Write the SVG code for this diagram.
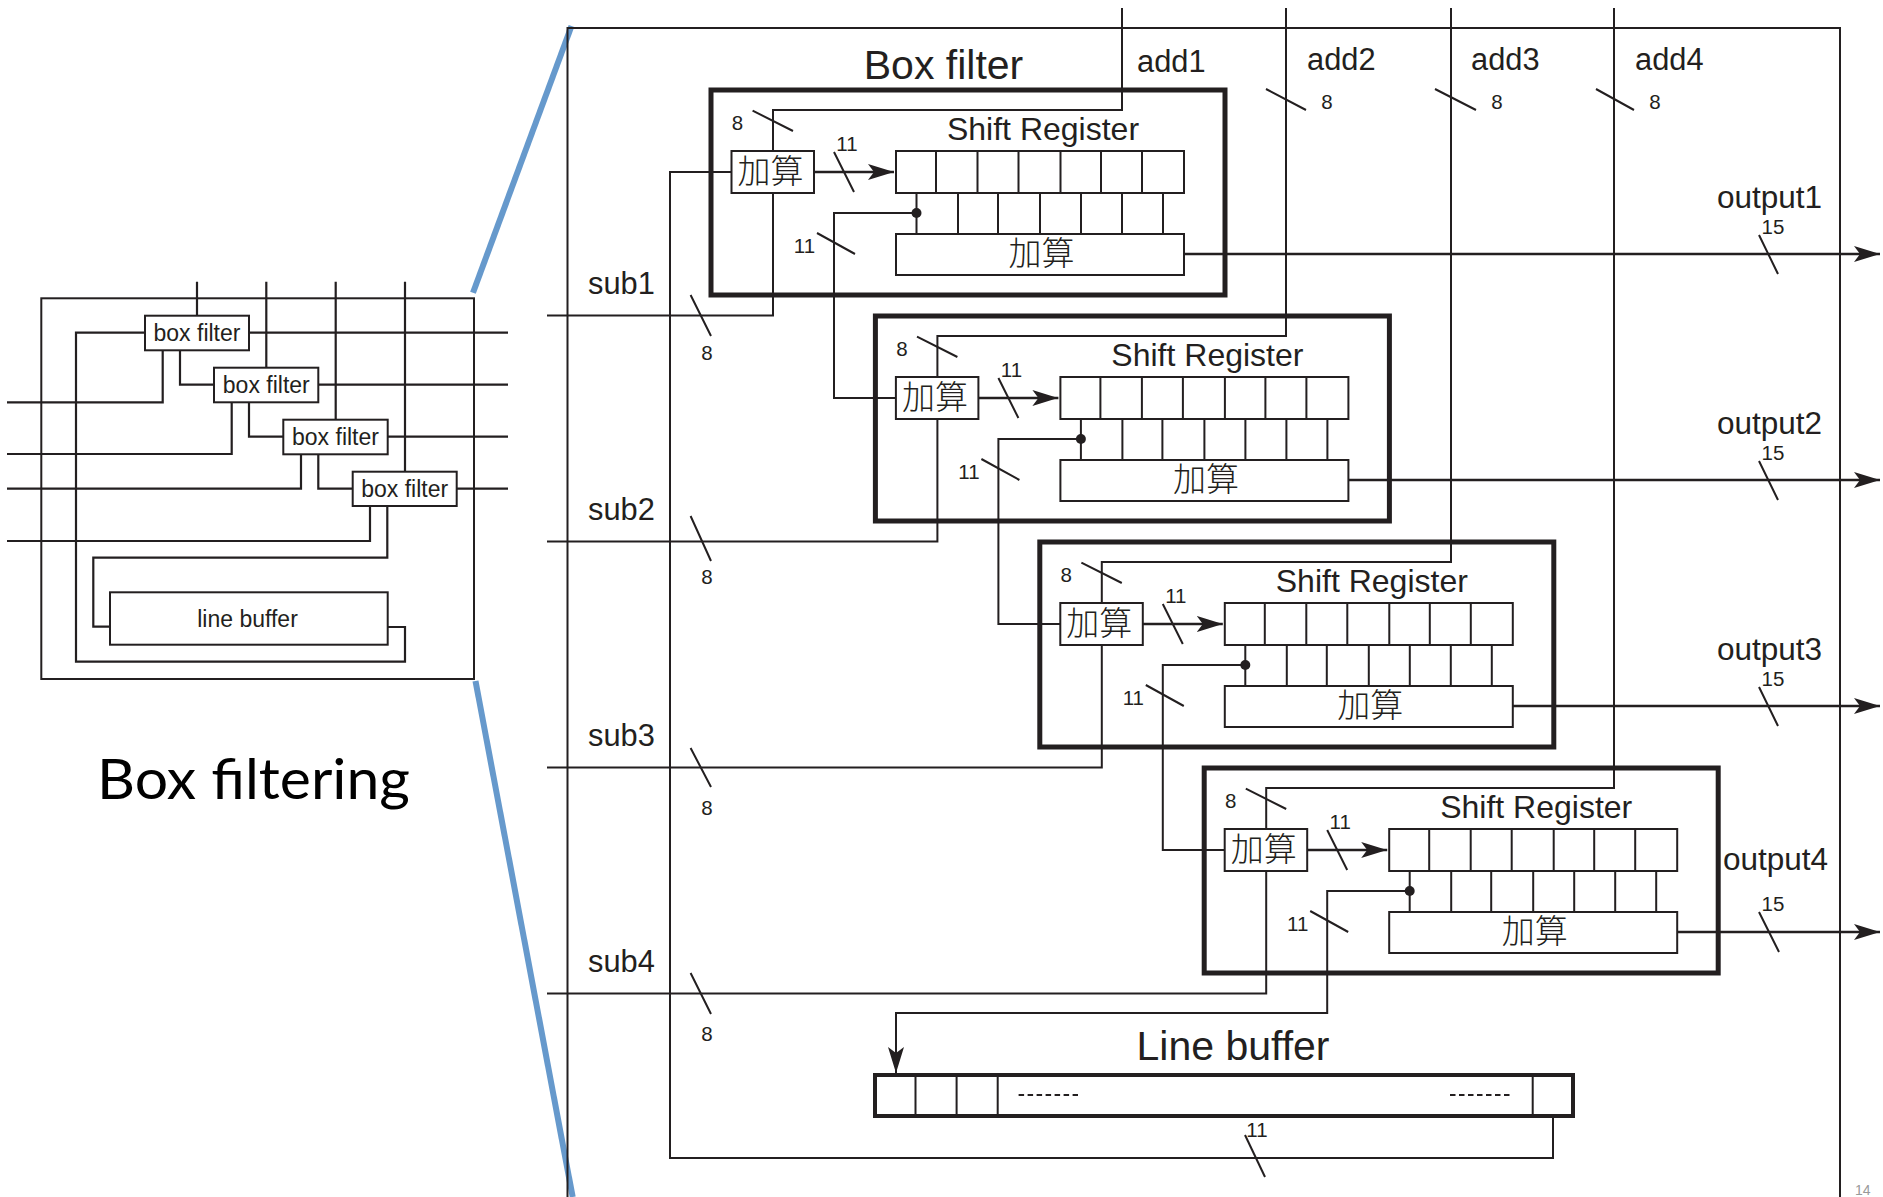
<svg xmlns="http://www.w3.org/2000/svg" width="1883" height="1197" viewBox="0 0 1883 1197">
<style>
text{font-family:"Liberation Sans",Arial,sans-serif;fill:#231f20}
.w{fill:none;stroke:#231f20;stroke-width:2}
.t{stroke-width:2.5}
.ov{stroke-width:2.2}
.box{fill:none;stroke:#231f20;stroke-width:5}
.cell{fill:#fff;stroke:#231f20;stroke-width:2}
.lbl{font-size:30.8px}
.out{font-size:31.5px}
.sr{font-size:32px;text-anchor:middle}
.h{font-size:41px;text-anchor:middle}
.n{font-size:20.5px;text-anchor:middle}
.cjk{font-family:"Noto Sans CJK JP","Noto Sans CJK SC",sans-serif;font-size:33px;font-weight:300;text-anchor:middle}
.bf{font-size:23px;text-anchor:middle}
.blue{stroke:#6699cc;stroke-width:6;fill:none}
</style>
<defs>
<marker id="arr" markerUnits="userSpaceOnUse" markerWidth="26" markerHeight="16" refX="26" refY="8" orient="auto"><path d="M0 0L26 8L0 16L6 8Z" fill="#231f20"/></marker>
<g id="cells"><rect class="cell" x="896" y="151" width="288" height="42"/><path class="w" d="M936 151V193M977.5 151V193M1018.5 151V193M1060.5 151V193M1101 151V193M1142 151V193"/></g>
<g id="taps"><path class="w" d="M916.5 193V234M958 193V234M998 193V234M1040 193V234M1081 193V234M1122 193V234M1163 193V234"/></g>
<g id="marks"><path class="w" d="M752.6 110.7L793 131M834 152L854 192M817 233L855 254"/></g>
</defs>
<rect width="1883" height="1197" fill="#fff"/>

<g id="overview">
<rect class="w" x="41.3" y="298.3" width="432.7" height="380.7"/>
<path class="w ov" d="M197 281.7V316M266.3 281.7V368M335.7 281.7V420M405 281.7V472M249 332.7H508M318.3 384.7H508M387.7 436.7H508M456.7 488.7H508M7 402.3H162.7V350M7 454H231.7V402M7 488.7H301V454M7 541H370V506M60 541H98M180 350V384.7H214M249 402V436.7H283.3M318.3 454V488.7H352.7M387.3 506V557.7H93.3V626.7H110M387.7 627H405V661.7H76V332.7H145"/>
<g id="bf1"><rect class="cell" x="145" y="315.7" width="104" height="34.6"/><text class="bf" x="197" y="340.7">box filter</text></g>
<g id="bf2"><rect class="cell" x="214" y="367.7" width="104.3" height="34.6"/><text class="bf" x="266.3" y="392.7">box filter</text></g>
<g id="bf3"><rect class="cell" x="283.3" y="419.7" width="104.4" height="34.6"/><text class="bf" x="335.5" y="444.7">box filter</text></g>
<g id="bf4"><rect class="cell" x="352.7" y="471.7" width="104" height="34.3"/><text class="bf" x="404.7" y="496.7">box filter</text></g>
<g id="lb"><rect class="cell" x="110" y="592.3" width="277.7" height="52.4"/><text class="bf" x="247.5" y="626.7">line buffer</text></g>
<text x="97" y="799" font-size="56" textLength="313" lengthAdjust="spacingAndGlyphs" style="font-family:Lato,'Open Sans',sans-serif;fill:#000">Box filtering</text>
</g>

<g id="zoom-lines">
<path class="blue" d="M473 292.7L571.5 26"/>
<path class="blue" d="M475.5 681L572.7 1197"/>
</g>

<g id="frame"><path class="w" d="M567.5 1197V28H1840V1197"/></g>

<g id="connectors">
<path class="w" d="M1122 8V110H773V151M1286 8V336H937.4V377M1451 8V562H1101.8V603M1614 8V788H1266.2V829"/>
<path class="w" d="M547 315.5H773V193M547 541.5H937.4V419M547 767.5H1101.8V645M547 993.5H1266.2V871"/>
<path class="w t" marker-end="url(#arr)" d="M814 172H894"/>
<path class="w t" marker-end="url(#arr)" d="M978.4 398H1058.4"/>
<path class="w t" marker-end="url(#arr)" d="M1142.8 624H1222.8"/>
<path class="w t" marker-end="url(#arr)" d="M1307.2 850H1387.2"/>
<path class="w t" marker-end="url(#arr)" d="M1184 254H1880"/>
<path class="w t" marker-end="url(#arr)" d="M1348.4 480H1880"/>
<path class="w t" marker-end="url(#arr)" d="M1512.8 706H1880"/>
<path class="w t" marker-end="url(#arr)" d="M1677.2 932H1880"/>
<path class="w" d="M916.5 213H834V398H896M1080.9 439H998.4V624H1060.4M1245.3 665H1162.8V850H1224.8"/>
<path class="w" marker-end="url(#arr)" d="M1409.7 891H1327.2V1013H896V1073"/>
<path class="w" d="M1553 1117V1158H670V172H731.5"/>
<use href="#marks"/>
<use href="#marks" transform="translate(164.4 226)"/>
<use href="#marks" transform="translate(328.8 452)"/>
<use href="#marks" transform="translate(493.2 678)"/>
<path class="w" d="M1266 89L1306 110M1435 89L1476 110M1596 89L1634 110"/>
<path class="w" d="M690.6 295L711 336M690.6 516L711 561M690.6 748L711 787M690.6 973L711 1014"/>
<path class="w" d="M1759 235L1778 274M1759 461L1778 500M1759 687L1778 726M1759 912L1779 952"/>
<path class="w" d="M1245 1135L1265 1177"/>
<g class="ins">
<text class="lbl" x="588" y="294">sub1</text>
<text class="lbl" x="588" y="520">sub2</text>
<text class="lbl" x="588" y="746">sub3</text>
<text class="lbl" x="588" y="972">sub4</text>
<text class="lbl" x="1137" y="72">add1</text>
<text class="lbl" x="1307" y="69.5">add2</text>
<text class="lbl" x="1471" y="69.5">add3</text>
<text class="lbl" x="1635" y="69.5">add4</text>
<text class="out" x="1717" y="208">output1</text>
<text class="out" x="1717" y="434">output2</text>
<text class="out" x="1717" y="660">output3</text>
<text class="out" x="1723" y="870">output4</text>
<text class="n" x="707" y="360">8</text><text class="n" x="707" y="584">8</text><text class="n" x="707" y="815">8</text><text class="n" x="707" y="1041">8</text>
<text class="n" x="1327" y="109">8</text><text class="n" x="1497" y="109">8</text><text class="n" x="1655" y="109">8</text>
<text class="n" x="1773" y="234">15</text><text class="n" x="1773" y="460">15</text><text class="n" x="1773" y="686">15</text><text class="n" x="1773" y="911">15</text>
<text class="n" x="1257" y="1137">11</text>
</g>
</g>

<g id="box1">
<rect class="box" x="711" y="90" width="514" height="205"/>
<text class="h" x="943.5" y="79">Box filter</text>
<text class="sr" x="1043" y="140">Shift Register</text>
<rect class="cell" x="731.5" y="151" width="82.5" height="42"/><text class="cjk" x="770.5" y="183">加算</text>
<use href="#cells"/><use href="#taps"/><circle cx="916.5" cy="213" r="5" fill="#231f20"/>
<rect class="cell" x="896" y="234" width="288" height="41"/><text class="cjk" x="1041.5" y="265">加算</text>
<text class="n" x="737.5" y="130">8</text><text class="n" x="847" y="151">11</text><text class="n" x="804.5" y="253">11</text>
</g>
<g id="box2" transform="translate(164.4 226)">
<rect class="box" x="711" y="90" width="514" height="205"/>
<text class="sr" x="1043" y="140">Shift Register</text>
<rect class="cell" x="731.5" y="151" width="82.5" height="42"/><text class="cjk" x="770.5" y="183">加算</text>
<use href="#cells"/><use href="#taps"/><circle cx="916.5" cy="213" r="5" fill="#231f20"/>
<rect class="cell" x="896" y="234" width="288" height="41"/><text class="cjk" x="1041.5" y="265">加算</text>
<text class="n" x="737.5" y="130">8</text><text class="n" x="847" y="151">11</text><text class="n" x="804.5" y="253">11</text>
</g>
<g id="box3" transform="translate(328.8 452)">
<rect class="box" x="711" y="90" width="514" height="205"/>
<text class="sr" x="1043" y="140">Shift Register</text>
<rect class="cell" x="731.5" y="151" width="82.5" height="42"/><text class="cjk" x="770.5" y="183">加算</text>
<use href="#cells"/><use href="#taps"/><circle cx="916.5" cy="213" r="5" fill="#231f20"/>
<rect class="cell" x="896" y="234" width="288" height="41"/><text class="cjk" x="1041.5" y="265">加算</text>
<text class="n" x="737.5" y="130">8</text><text class="n" x="847" y="151">11</text><text class="n" x="804.5" y="253">11</text>
</g>
<g id="box4" transform="translate(493.2 678)">
<rect class="box" x="711" y="90" width="514" height="205"/>
<text class="sr" x="1043" y="140">Shift Register</text>
<rect class="cell" x="731.5" y="151" width="82.5" height="42"/><text class="cjk" x="770.5" y="183">加算</text>
<use href="#cells"/><use href="#taps"/><circle cx="916.5" cy="213" r="5" fill="#231f20"/>
<rect class="cell" x="896" y="234" width="288" height="41"/><text class="cjk" x="1041.5" y="265">加算</text>
<text class="n" x="737.5" y="130">8</text><text class="n" x="847" y="151">11</text><text class="n" x="804.5" y="253">11</text>
</g>

<g id="linebuffer">
<text class="h" x="1233" y="1060">Line buffer</text>
<rect x="875" y="1075" width="698" height="41" fill="none" stroke="#231f20" stroke-width="4"/>
<path class="w" d="M915.5 1075V1116M956.6 1075V1116M997.7 1075V1116M1532.7 1075V1116"/>
<path d="M1018.6 1095H1078M1450 1095H1510.5" stroke="#231f20" stroke-width="2" stroke-dasharray="5.5 3.5" fill="none"/>
</g>
<text x="1855" y="1195" font-size="14" style="fill:#999">14</text>
</svg>
